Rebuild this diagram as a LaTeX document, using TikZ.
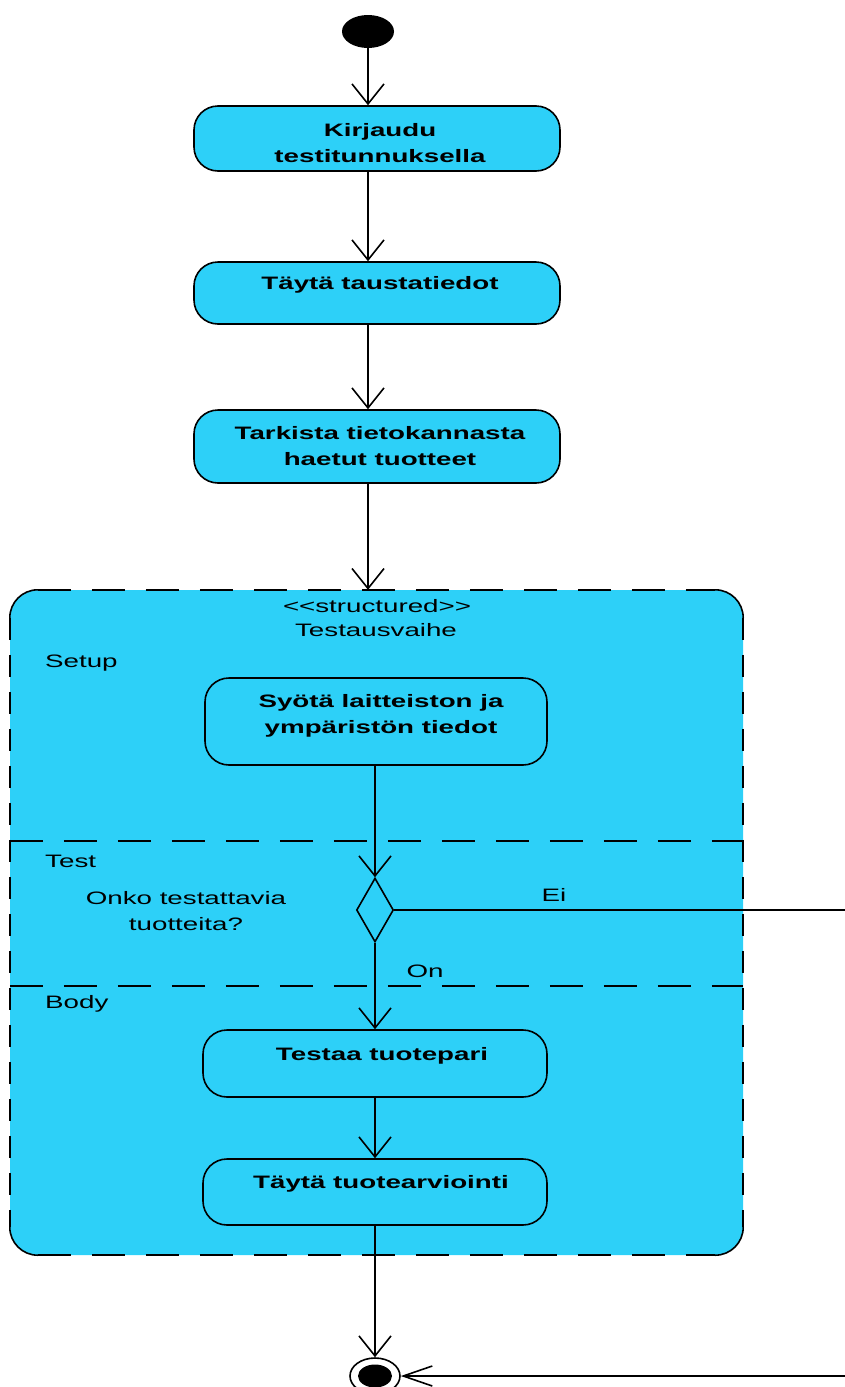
\documentclass[tikz,border=0pt]{standalone}
\usepackage{fontspec}
\setmainfont{Liberation Sans}[FakeStretch=1.54]
\usetikzlibrary{arrows.meta,shapes.geometric}
\definecolor{umlcyan}{RGB}{45,208,248}
\tikzset{
  line/.style={line width=1.6pt, draw=black},
  varr/.style={line, -{Straight Barb[length=20pt,width=32pt]}},
  harr/.style={line, -{Straight Barb[length=29pt,width=20pt]}},
  act/.style={rectangle, rounded corners=24pt, draw=black, line width=1.6pt, inner sep=0pt},
  acttop/.style={act, fill=umlcyan},
  btxt/.style={font=\bfseries\fontsize{18}{26}\selectfont, align=center, inner sep=0pt},
  rtxt/.style={font=\fontsize{18}{26}\selectfont, align=center, inner sep=0pt},
  hdash/.style={dash pattern=on 33pt off 21pt},
  vdash/.style={dash pattern=on 22pt off 15pt},
}
\begin{document}
\begin{tikzpicture}[x=1pt, y=-1pt]
\useasboundingbox (0,0) rectangle (845,1387);
\fill[white] (0,0) rectangle (845,1387);
\clip (0,0) rectangle (845,1387);

% structured activity region
\node[rectangle, rounded corners=28pt, fill=umlcyan, minimum width=733pt, minimum height=665pt, inner sep=0pt] (loop) at (376.5,922.5) {};
\draw[line, hdash] ([xshift=28pt]loop.north west) -- ([xshift=-28pt]loop.north east);
\draw[line, hdash] ([xshift=28pt]loop.south west) -- ([xshift=-28pt]loop.south east);
\draw[line, vdash] ([yshift=-28pt]loop.north west) -- ([yshift=28pt]loop.south west);
\draw[line, vdash] ([yshift=-28pt]loop.north east) -- ([yshift=28pt]loop.south east);
\draw[line] ([yshift=-28pt]loop.north west) arc[start angle=180, end angle=90, radius=28pt];
\draw[line] ([xshift=-28pt]loop.north east) arc[start angle=90, end angle=0, radius=28pt];
\draw[line] ([yshift=28pt]loop.south east) arc[start angle=0, end angle=-90, radius=28pt];
\draw[line] ([xshift=28pt]loop.south west) arc[start angle=270, end angle=180, radius=28pt];
\coordinate (sepA) at (0,841);
\coordinate (sepB) at (0,986);
\draw[line, hdash] (loop.west |- sepA) -- (loop.east |- sepA);
\draw[line, hdash] (loop.west |- sepB) -- (loop.east |- sepB);

\node[rtxt, anchor=base] (stereo) at (377,612) {<{}<structured>{}>};
\node[rtxt, anchor=base] (loopname) at (376,636) {Testausvaihe};
\node[rtxt, anchor=base west] (lsetup) at (45,667) {Setup};
\node[rtxt, anchor=base west] (ltest) at (45,867) {Test};
\node[rtxt, anchor=base west] (lbody) at (45,1008) {Body};

% initial node and top actions
\node[ellipse, fill=black, minimum width=52pt, minimum height=33pt, inner sep=0pt] (init) at (368,31.5) {};
\node[acttop, minimum width=366pt, minimum height=65pt] (b1) at (377,138.5) {};
\node[btxt, anchor=north] (t1) at (380,123) {Kirjaudu\\testitunnuksella};
\node[acttop, minimum width=366pt, minimum height=62pt] (b2) at (377,293) {};
\node[btxt, anchor=base] (t2) at (380,289) {Täytä taustatiedot};
\node[acttop, minimum width=366pt, minimum height=73pt] (b3) at (377,446.5) {};
\node[btxt, anchor=north] (t3) at (380,426) {Tarkista tietokannasta\\haetut tuotteet};

% actions inside the region
\node[act, minimum width=342pt, minimum height=87pt] (b4) at (376,721.5) {};
\node[btxt, anchor=north] (t4) at (381,694) {Syötä laitteiston ja\\ympäristön tiedot};
\node[diamond, draw=black, line width=1.6pt, minimum width=37pt, minimum height=64pt, inner sep=0pt] (dec) at (375,910) {};
\node[rtxt, anchor=north] (q) at (186,891) {Onko testattavia\\tuotteita?};
\node[rtxt, anchor=base] (lei) at (554,901) {Ei};
\node[rtxt, anchor=base] (lon) at (425,977) {On};
\node[act, minimum width=344pt, minimum height=67pt] (b5) at (375,1063.5) {};
\node[btxt, anchor=base] (t5) at (382,1060) {Testaa tuotepari};
\node[act, minimum width=344pt, minimum height=66pt] (b6) at (375,1192) {};
\node[btxt, anchor=base] (t6) at (381,1188) {Täytä tuotearviointi};

% final node
\node[ellipse, draw=black, line width=1.6pt, minimum width=50pt, minimum height=36pt, inner sep=0pt] (fin) at (375,1376) {};
\node[ellipse, fill=black, minimum width=34pt, minimum height=23pt, inner sep=0pt] (finc) at (fin) {};

% flows
\draw[varr] (init) -- (init |- b1.north);
\draw[varr] (b1.south -| init) -- (b2.north -| init);
\draw[varr] (b2.south -| init) -- (b3.north -| init);
\draw[varr] (b3.south -| init) -- (loop.north -| init);
\draw[varr] (b4.south -| dec) -- (dec.north);
\draw[varr] (dec.south) -- (b5.north -| dec);
\draw[varr] (b5.south -| dec) -- (b6.north -| dec);
\draw[varr] (b6.south -| dec) -- (fin.north);
\coordinate (outR) at (880,910);
\draw[harr] (dec.east) -- (outR) |- (fin.east);
\end{tikzpicture}
\end{document}
